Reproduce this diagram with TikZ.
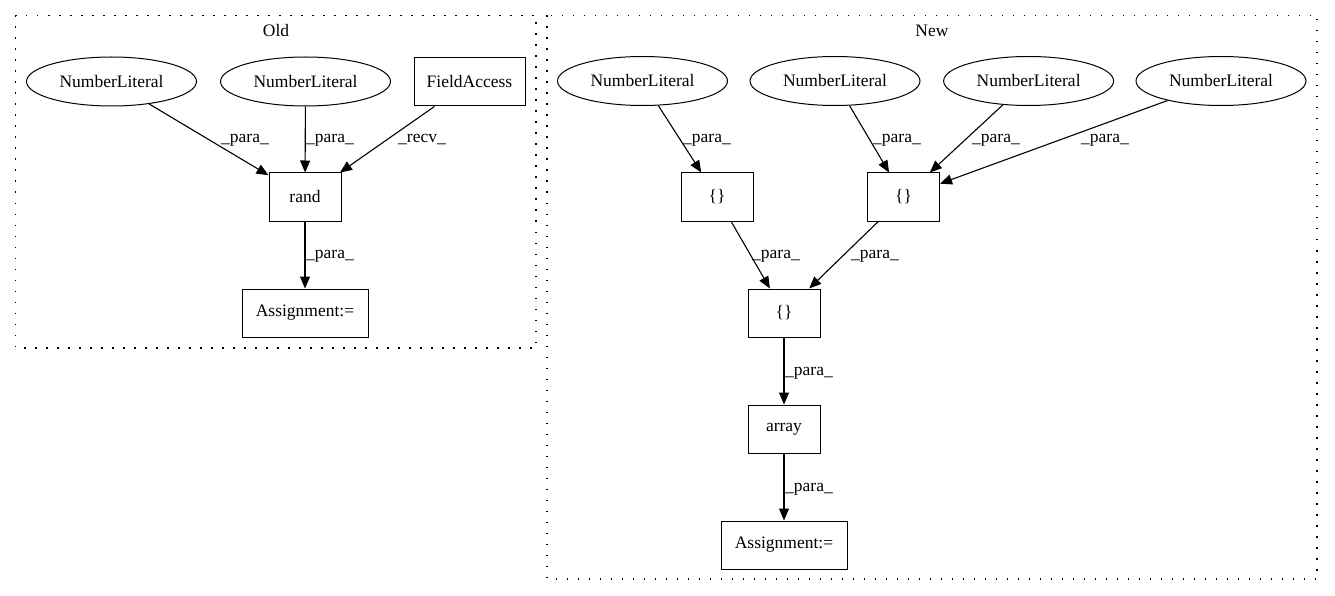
\documentclass[tikz,border=0pt]{standalone}
\usepackage{fontspec}
\setmainfont{Liberation Serif}
\usetikzlibrary{shapes.geometric,arrows.meta}
\begin{document}
\begin{tikzpicture}[x=1pt,y=-1pt,
  every node/.style={font=\fontsize{17.5}{20}\selectfont},
  ell/.style={draw,ellipse,line width=1pt,minimum width=170pt,minimum height=49pt,inner sep=0pt},
  box/.style={draw,rectangle,line width=1pt,minimum height=48pt,inner sep=0pt},
  cluster/.style={draw,line width=1.2pt,dash pattern=on 1.5pt off 9.5pt},
  edge/.style={draw,line width=1.1pt,-{Triangle[length=12pt,width=10pt]}},
  lbl/.style={inner sep=0pt}]
\useasboundingbox (0,0) rectangle (1335,596);
% clusters
\draw[cluster] (15.5,15.5) rectangle (536,348);
\node[lbl] (oldt) at (276,31) {Old};
\draw[cluster] (547,15.5) rectangle (1317,579);
\node[lbl] (newt) at (932,31) {New};
% Old nodes
\node[ell] (onl1) at (111.5,81.5) {NumberLiteral};
\node[ell] (onl2) at (305.5,81.5) {NumberLiteral};
\node[box,minimum width=111pt] (ofa) at (469.5,82) {FieldAccess};
\node[box,minimum width=72pt] (orand) at (305,197) {rand};
\node[box,minimum width=126pt] (oasg) at (305,313) {Assignment:=};
% Old edges
\draw[edge] (onl1) -- (orand);
\draw[edge] (onl2) -- (orand);
\draw[edge] (ofa) -- (orand);
\draw[edge] (orand) -- (oasg);
\node[lbl] (ol1) at (245,140) {\_para\_};
\node[lbl] (ol2) at (330,140) {\_para\_};
\node[lbl] (ol3) at (422,140) {\_recv\_};
\node[lbl] (ol4) at (330,256) {\_para\_};
% New nodes
\node[ell] (na) at (642.5,81) {NumberLiteral};
\node[ell] (nb) at (835,81) {NumberLiteral};
\node[ell] (nc) at (1028.6,81) {NumberLiteral};
\node[ell] (nd) at (1221,81) {NumberLiteral};
\node[box,minimum width=72pt] (b1) at (717,197) {\{\}};
\node[box,minimum width=72pt] (b2) at (903.5,197) {\{\}};
\node[box,minimum width=72pt] (b3) at (784,313) {\{\}};
\node[box,minimum width=72pt] (arr) at (784,429) {array};
\node[box,minimum width=126pt] (nasg) at (784,545) {Assignment:=};
% New edges
\draw[edge] (na) -- (b1);
\draw[edge] (nb) -- (b2);
\draw[edge] (nc) -- (b2);
\draw[edge] (nd) -- (b2);
\draw[edge] (b1) -- (b3);
\draw[edge] (b2) -- (b3);
\draw[edge] (b3) -- (arr);
\draw[edge] (arr) -- (nasg);
\node[lbl] (nl1) at (707,140) {\_para\_};
\node[lbl] (nl2) at (897,140) {\_para\_};
\node[lbl] (nl3) at (996,140) {\_para\_};
\node[lbl] (nl4) at (1105,140) {\_para\_};
\node[lbl] (nl5) at (776,256) {\_para\_};
\node[lbl] (nl6) at (875,256) {\_para\_};
\node[lbl] (nl7) at (809,373) {\_para\_};
\node[lbl] (nl8) at (809,489) {\_para\_};
\end{tikzpicture}
\end{document}
